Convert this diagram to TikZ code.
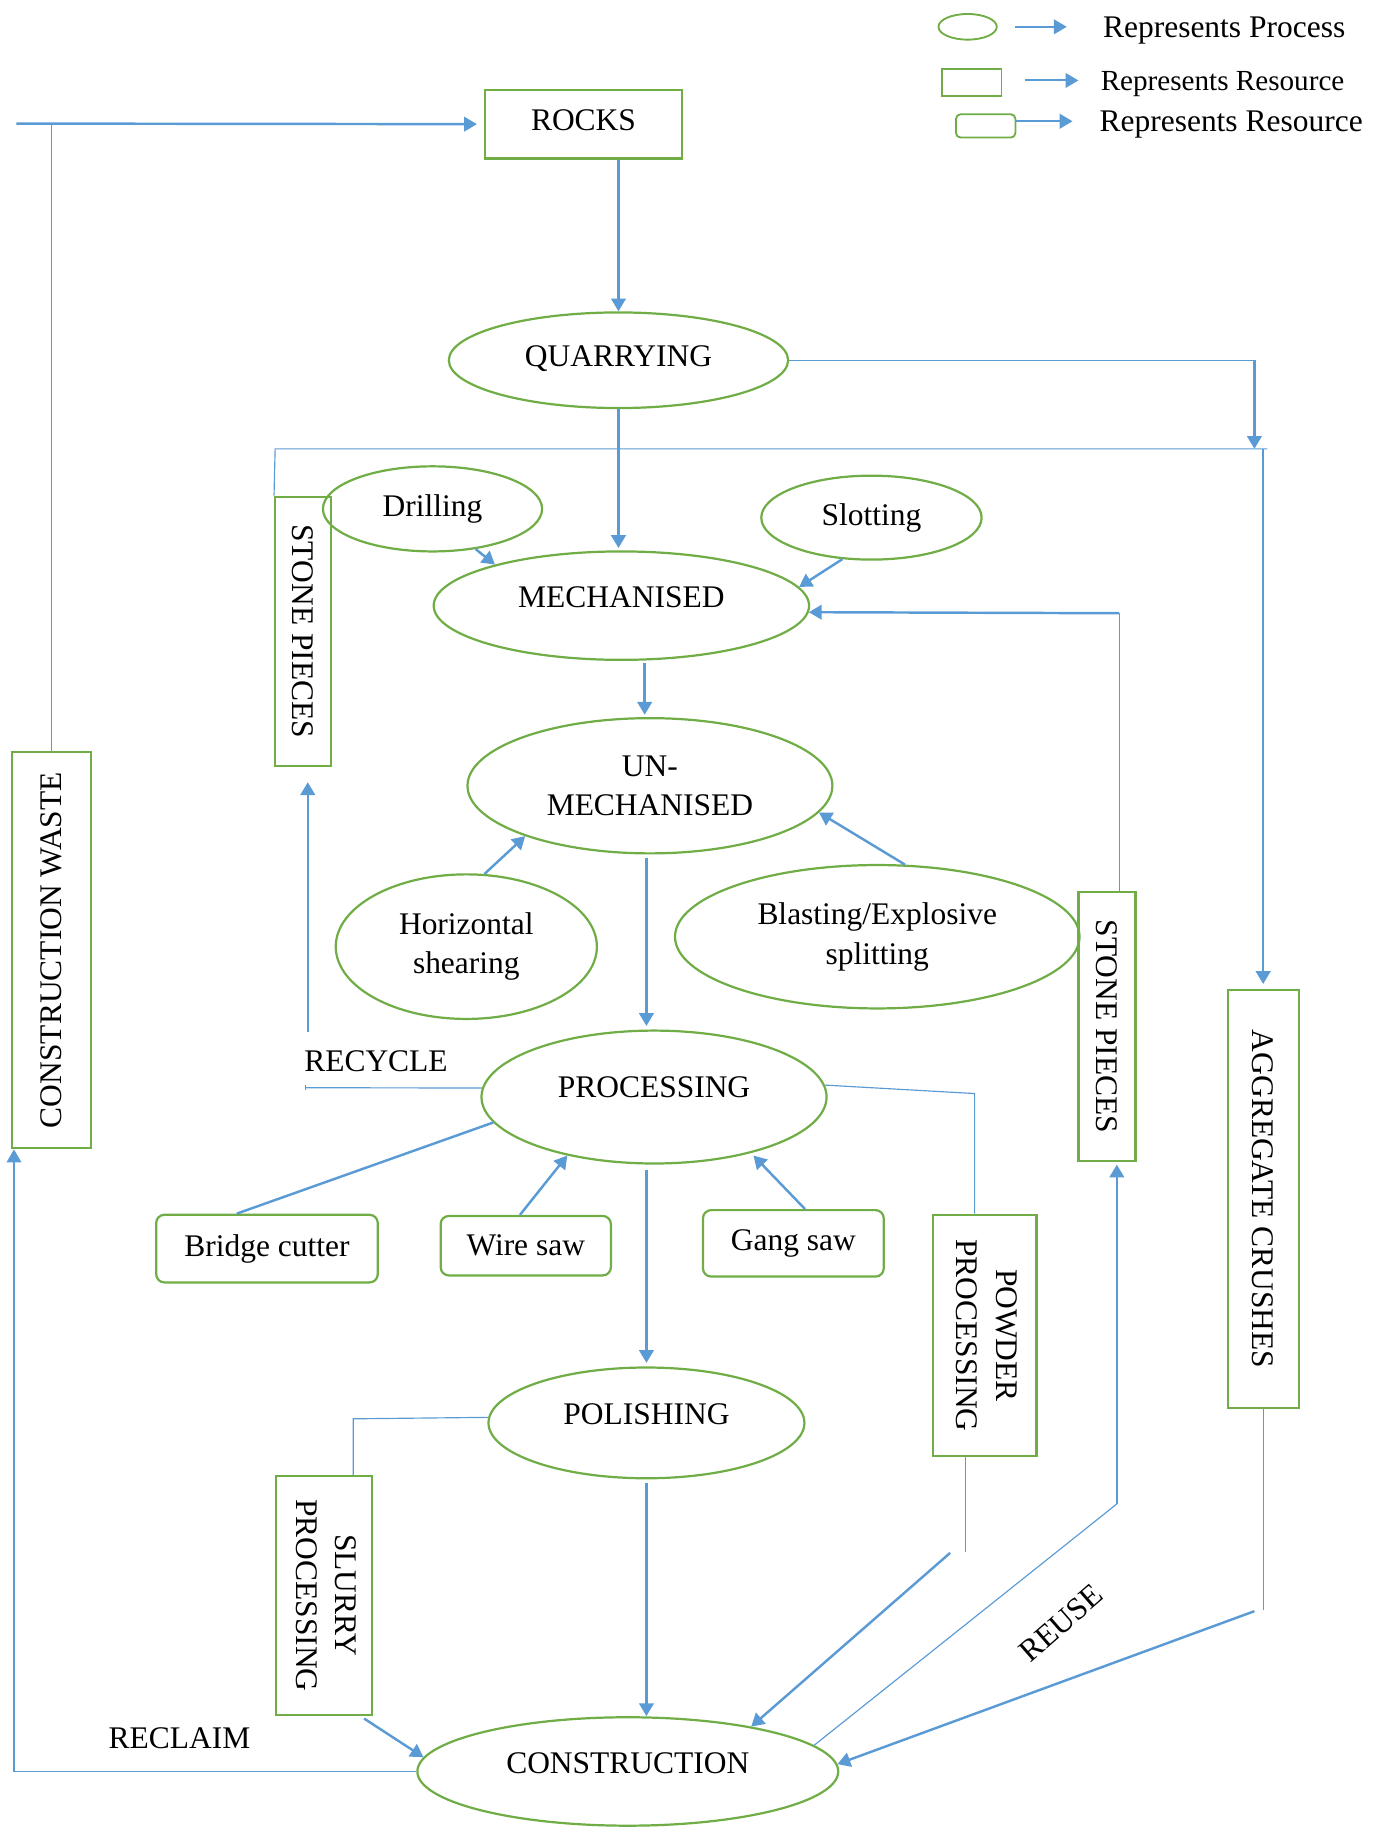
\documentclass[tikz,border=0pt]{standalone}
\usepackage{fontspec}
\setmainfont{Liberation Serif}
\usetikzlibrary{shapes.geometric,arrows.meta,calc}
\definecolor{grn}{HTML}{70AD47}
\definecolor{blu}{HTML}{5B9BD5}
\begin{document}
\begin{tikzpicture}[x=1pt,y=-1pt,
 every node/.style={font=\fontsize{27}{34}\selectfont},
 proc/.style={ellipse, draw=grn, line width=1.9pt, inner sep=0pt, align=center},
 res/.style={rectangle, draw=grn, line width=1.9pt, inner sep=0pt},
 tool/.style={rectangle, rounded corners=7pt, draw=grn, line width=1.9pt, inner sep=0pt},
 capt/.style={text height=18pt, text depth=#1},
 arr/.style={draw=blu, line width=2.1pt, -{Triangle[length=11pt,width=12.5pt]}},
 ln/.style={draw=blu, line width=1pt},
 thk/.style={draw=blu, line width=2.1pt}]

\useasboundingbox (0,0) rectangle (1177,1568);

% ---------- legend ----------
\node[proc, line width=1.6pt, minimum width=50pt, minimum height=22pt] (lgE) at (830,23) {};
\node[res, line width=1.6pt, minimum width=51pt, minimum height=23pt] (lgR) at (833.5,70.5) {};
\node[tool, line width=1.6pt, rounded corners=4pt, minimum width=51pt, minimum height=20pt] (lgU) at (845.5,108) {};
\node[anchor=west, inner sep=0pt, capt=0pt] (lgT1) at (946,23) {Represents Process};
\node[anchor=west, inner sep=0pt, text height=16.5pt, text depth=0pt, font=\fontsize{25}{30}\selectfont] (lgT2) at (944,69) {Represents Resource};
\node[anchor=west, inner sep=0pt, capt=0pt] (lgT3) at (943,104) {Represents Resource};
\draw[arr, line width=1.8pt, shorten <=15pt, shorten >=31pt] (lgE) -- (lgT1);
\draw[arr, line width=1.8pt, shorten <=19pt, shorten >=19pt] (lgR.east |- lgT2.west) -- (lgT2.west);
\draw[arr, line width=1.8pt, shorten >=23pt] (lgU.east |- lgT3.west) -- (lgT3.west);

% ---------- process nodes ----------
\node[res, minimum width=169pt, minimum height=59pt, capt=7pt] (rocks) at (500.5,106.5) {ROCKS};
\node[proc, minimum width=291pt, minimum height=82pt, capt=8pt] (quarry) at (530.5,309) {QUARRYING};
\node[proc, minimum width=322pt, minimum height=93pt, capt=15pt] (mech) at (533,519.5) {MECHANISED};
\node[proc, minimum width=188pt, minimum height=73pt] (drill) at (371,436.5) {Drilling};
\node[proc, minimum width=189pt, minimum height=72pt] (slot) at (747.5,444) {Slotting};
\node[proc, minimum width=313pt, minimum height=116pt] (unmech) at (557.5,674) {UN-\\MECHANISED};
\node[proc, minimum width=224pt, minimum height=124pt] (horiz) at (400,812) {Horizontal\\shearing};
\node[proc, minimum width=347pt, minimum height=123pt] (blast) at (752.5,803.5) {Blasting/Explosive\\splitting};
\node[proc, minimum width=296pt, minimum height=114pt, capt=18pt] (proc) at (561,941) {PROCESSING};
\node[proc, minimum width=271pt, minimum height=95pt, capt=16pt] (polish) at (554.5,1220.5) {POLISHING};
\node[proc, minimum width=361pt, minimum height=93pt, capt=15pt] (constr) at (538.5,1519.5) {CONSTRUCTION};

% ---------- resource boxes ----------
\node[res, minimum width=48pt, minimum height=231pt] (sp1) at (260,541.5) {\rotatebox{-90}{STONE PIECES}};
\node[res, minimum width=49pt, minimum height=231pt] (sp2) at (949.5,880.5) {\rotatebox{-90}{STONE PIECES}};
\node[res, minimum width=61pt, minimum height=359pt] (agg) at (1083.5,1028.5) {\rotatebox{-90}{AGGREGATE CRUSHES}};
\node[res, minimum width=68pt, minimum height=340pt] (cw) at (44,815) {\rotatebox{90}{CONSTRUCTION WASTE}};
\node[res, minimum width=82pt, minimum height=205pt] (slurry) at (278,1368.5) {\rotatebox{-90}{\begin{tabular}{@{}c@{}}SLURRY\\PROCESSING\end{tabular}}};
\node[res, minimum width=89pt, minimum height=207pt] (powder) at (844.5,1145.5) {\rotatebox{-90}{\begin{tabular}{@{}c@{}}POWDER\\PROCESSING\end{tabular}}};

% ---------- tools ----------
\node[tool, minimum width=190pt, minimum height=58pt] (bridge) at (229,1071) {Bridge cutter};
\node[tool, minimum width=146pt, minimum height=51pt] (wire) at (451,1068.5) {Wire saw};
\node[tool, minimum width=155pt, minimum height=57pt] (gang) at (680.5,1066.5) {Gang saw};

% ---------- labels ----------
\node[capt=0pt, inner sep=0pt] (recyc) at (322.5,910) {RECYCLE};
\node[capt=0pt, inner sep=0pt] (reclaim) at (154,1491) {RECLAIM};
\node[capt=0pt, inner sep=0pt, rotate=41] (reuse) at (910,1392) {REUSE};

% ---------- coordinates ----------
\coordinate (cwl) at (14,106);
\coordinate (qr) at (1076,309);
\coordinate (tl) at (236,385);
\coordinate (tr) at (1087,385);
\coordinate (spr) at (960,526);
\coordinate (rec) at (262,933);
\coordinate (recup) at (264,885);
\coordinate (pr) at (836,938);
\coordinate (pl) at (303,1217);
\coordinate (cl) at (12,1517);
\coordinate (pw) at (828,1331);
\coordinate (pw2) at (815,1332);
\coordinate (sr) at (958,1290);
\coordinate (ag) at (1084,1381);
\coordinate (ag2) at (1076,1382);

% ---------- connectors ----------
\draw[ln] (cw.north) -- (cw.north |- cwl);
\draw[arr, shorten >=6pt] (cwl) -- (rocks.west);
\draw[arr] (rocks.south -| quarry.north) -- (quarry.north);
\draw[arr, shorten >=2pt] (quarry.south) -- (quarry.south |- mech.north);
\draw[ln] (quarry.east) -- (qr);
\draw[arr] (qr) -- (qr |- tr);
\draw[ln] (sp1.north west) -- (tl) -- (tr);
\draw[arr, shorten >=4pt] (agg.north |- tr) -- (agg.north);
\draw[arr] (drill.-43) -- (mech.162);
\draw[arr] (slot.235) -- (mech.6);
\draw[ln] (sp2.north -| spr) -- (spr);
\draw[arr] (spr) -- (mech.-2.5);
\draw[arr, shorten <=2pt, shorten >=2pt] ([xshift=20pt]mech.south) -- ([xshift=20pt]mech.south |- unmech.north);
\draw[arr] (horiz.76) -- (unmech.202);
\draw[arr] (blast.69) -- (unmech.-9);
\draw[arr, shorten <=3pt, shorten >=3pt] ([xshift=-3pt]unmech.south) -- ([xshift=-3pt]unmech.south |- proc.north);
\draw[ln] (proc.177) -- (rec);
\draw[ln] (rec) ++(0,-2) -- ++(0,4);
\draw[arr, shorten >=13pt] (recup) -- (recup |- sp1.south);
\draw[ln] (proc.4) -- (pr) -- (pr |- powder.north);
\draw[thk] ([xshift=-26pt]bridge.north) -- (proc.189);
\draw[arr] ([xshift=-5pt]wire.north) -- (proc.214);
\draw[arr, shorten >=3pt] ([xshift=10pt]gang.north) -- (proc.-30);
\draw[arr, shorten <=5pt, shorten >=3pt] (proc.south -| polish.north) -- (polish.north);
\draw[ln] (polish.178) -- (pl) -- (pl |- slurry.north);
\draw[arr, shorten <=3pt] (polish.south) -- (polish.south |- constr.north);
\draw[arr, shorten <=4pt] ([xshift=31pt]slurry.south) -- (constr.176);
\draw[arr, line width=1.3pt] (constr.west) -- (constr.west -| cl) -- (cl |- cw.south);
\draw[ln] ([xshift=-16.5pt]powder.south) -- (pw);
\draw[arr] (pw2) -- (constr.20);
\draw[ln] (constr.8) -- (sr);
\draw[arr, shorten >=2pt] (sr) -- (sr |- sp2.south);
\draw[ln] (agg.south -| ag) -- (ag);
\draw[arr] (ag2) -- (constr.2);
\end{tikzpicture}
\end{document}
